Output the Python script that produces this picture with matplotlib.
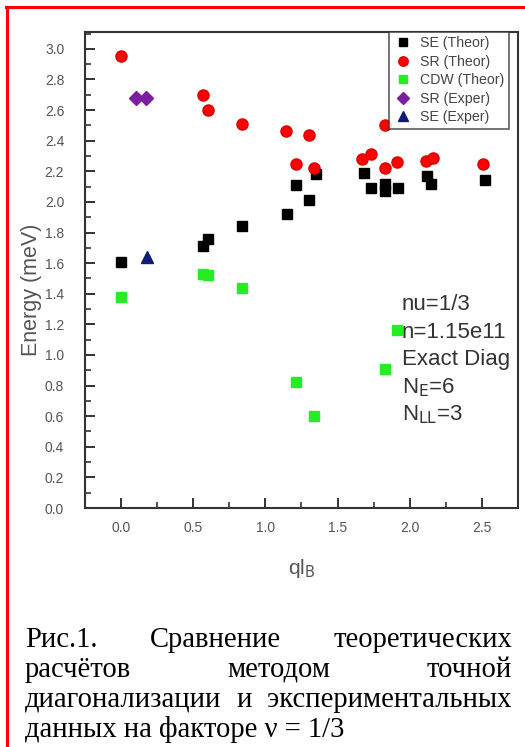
import matplotlib

matplotlib.use("Agg")
import matplotlib.pyplot as plt
from matplotlib.lines import Line2D
from matplotlib.ticker import MultipleLocator

# SE (Theor) – black squares
se_theor_q = [0.00, 0.57, 0.60, 0.84, 1.15, 1.21, 1.30, 1.35, 1.68, 1.73, 1.83, 1.83, 1.92, 2.12, 2.15, 2.52]
se_theor_e = [1.61, 1.71, 1.76, 1.84, 1.92, 2.11, 2.01, 2.18, 2.19, 2.09, 2.12, 2.07, 2.09, 2.17, 2.12, 2.14]

# SR (Theor) – red circles
sr_theor_q = [0.00, 0.57, 0.60, 0.84, 1.14, 1.21, 1.30, 1.34, 1.67, 1.73, 1.83, 1.83, 1.91, 2.11, 2.16, 2.51]
sr_theor_e = [2.95, 2.70, 2.60, 2.51, 2.46, 2.25, 2.44, 2.22, 2.28, 2.31, 2.50, 2.22, 2.26, 2.27, 2.29, 2.25]

# CDW (Theor) – green squares
cdw_theor_q = [0.00, 0.57, 0.60, 0.84, 1.21, 1.34, 1.83, 1.91]
cdw_theor_e = [1.38, 1.53, 1.52, 1.44, 0.82, 0.60, 0.91, 1.16]

# SR (Exper) – purple diamonds
sr_exper_q = [0.10, 0.17]
sr_exper_e = [2.68, 2.68]

# SE (Exper) – navy triangle
se_exper_q = [0.18]
se_exper_e = [1.64]

x_ticks = [0.0, 0.5, 1.0, 1.5, 2.0, 2.5]
y_ticks = [0.0, 0.2, 0.4, 0.6, 0.8, 1.0, 1.2, 1.4, 1.6, 1.8, 2.0, 2.2, 2.4, 2.6, 2.8, 3.0]

info_lines = ["nu=1/3", "n=1.15e11", "Exact Diag", r"N$_{\rm E}$=6", r"N$_{\rm LL}$=3"]

caption_lines = [
    "Рис.1. Сравнение теоретических",
    "расчётов методом точной",
    "диагонализации и экспериментальных",
    "данных на факторе ν = 1/3",
]

W, H, DPI = 525, 747, 100
SANS = ["Liberation Sans", "DejaVu Sans"]
SERIF = ["Liberation Serif", "DejaVu Serif"]
AX_COLOR = "#333333"
LABEL_COLOR = "#555555"

fig = plt.figure(figsize=(W / DPI, H / DPI), dpi=DPI)
ax = fig.add_axes([85 / W, 1 - 508 / H, (518 - 85) / W, (508 - 32) / H])

ax.plot(se_theor_q, se_theor_e, ls="none", marker="s", ms=7, mfc="black", mec="black", label="SE (Theor)")
ax.plot(sr_theor_q, sr_theor_e, ls="none", marker="o", ms=8, mfc="#ff0000", mec="#dd0000", label="SR (Theor)")
ax.plot(cdw_theor_q, cdw_theor_e, ls="none", marker="s", ms=7, mfc="#22ee22", mec="#22ee22", label="CDW (Theor)")
ax.plot(sr_exper_q, sr_exper_e, ls="none", marker="D", ms=7, mfc="#7a1fa0", mec="#7a1fa0", label="SR (Exper)")
ax.plot(se_exper_q, se_exper_e, ls="none", marker="^", ms=9, mfc="#101a78", mec="#101a78", label="SE (Exper)")

ax.set_xlim(-0.25, 2.75)
ax.set_ylim(0.0, 3.11)
ax.set_xticks(x_ticks)
ax.set_yticks(y_ticks)
ax.set_xticklabels([f"{v:.1f}" for v in x_ticks])
ax.set_yticklabels([f"{v:.1f}" for v in y_ticks])
ax.xaxis.set_minor_locator(MultipleLocator(0.25))
ax.yaxis.set_minor_locator(MultipleLocator(0.1))
ax.tick_params(which="major", direction="in", length=7, width=1.4, color=AX_COLOR,
               labelsize=10, labelcolor=LABEL_COLOR, top=False, right=False)
ax.tick_params(axis="y", which="major", pad=15)
ax.tick_params(axis="x", which="major", pad=9)
ax.tick_params(which="minor", direction="in", length=4, width=1.2, color=AX_COLOR, top=False, right=False)
for lab in ax.get_xticklabels() + ax.get_yticklabels():
    lab.set_family(SANS)

for spine in ax.spines.values():
    spine.set_linewidth(1.5)
    spine.set_color(AX_COLOR)

ax.set_ylabel("Energy (meV)", fontsize=15.5, color=LABEL_COLOR, family=SANS)
ax.yaxis.set_label_coords(-0.099, 0.458)
ax.set_xlabel(r"ql$_{\rm B}$", fontsize=15, color=LABEL_COLOR, family=SANS, labelpad=16)

leg = ax.legend(loc="upper right", bbox_to_anchor=(0.979, 1.0), borderaxespad=0.0, frameon=True,
                fancybox=False, handletextpad=0.6, borderpad=0.3, labelspacing=0.32,
                handlelength=1.3, markerscale=0.85, prop={"family": SANS, "size": 10.2})
leg.get_frame().set_edgecolor(AX_COLOR)
leg.get_frame().set_linewidth(1.2)
for t in leg.get_texts():
    t.set_color("#444444")

# parameters block on the right side of the plot
for i, line in enumerate(info_lines):
    ax.text(402 / W, 1 - (305 + i * 27.5) / H, line, transform=fig.transFigure,
            fontsize=16, color="#333333", family=SANS, va="center", ha="left")

# justified caption below the plot
renderer = fig.canvas.get_renderer()
x_left, x_right = 25, 512
baselines = [647, 677, 707, 737]
cap_size = 20.6
for i, line in enumerate(caption_lines):
    y = 1 - baselines[i] / H
    words = line.split(" ")
    if i == len(caption_lines) - 1:
        fig.text(x_left / W, y, line, fontsize=cap_size, family=SERIF, va="baseline", ha="left")
        continue
    texts = [fig.text(0, y, w, fontsize=cap_size, family=SERIF, va="baseline", ha="left") for w in words]
    widths = [t.get_window_extent(renderer).width for t in texts]
    gap = (x_right - x_left - sum(widths)) / (len(words) - 1)
    x = x_left
    for t, w in zip(texts, widths):
        t.set_x(x / W)
        x += w + gap

# red frame on the top and left edges
fig.add_artist(Line2D([7 / W, 7 / W], [0, 1 - 6.5 / H], color="#ff0000", lw=2.2, transform=fig.transFigure))
fig.add_artist(Line2D([6 / W, 1], [1 - 6.5 / H, 1 - 6.5 / H], color="#ff0000", lw=2.2, transform=fig.transFigure))

fig.savefig("out.png", dpi=DPI)
plt.close(fig)
